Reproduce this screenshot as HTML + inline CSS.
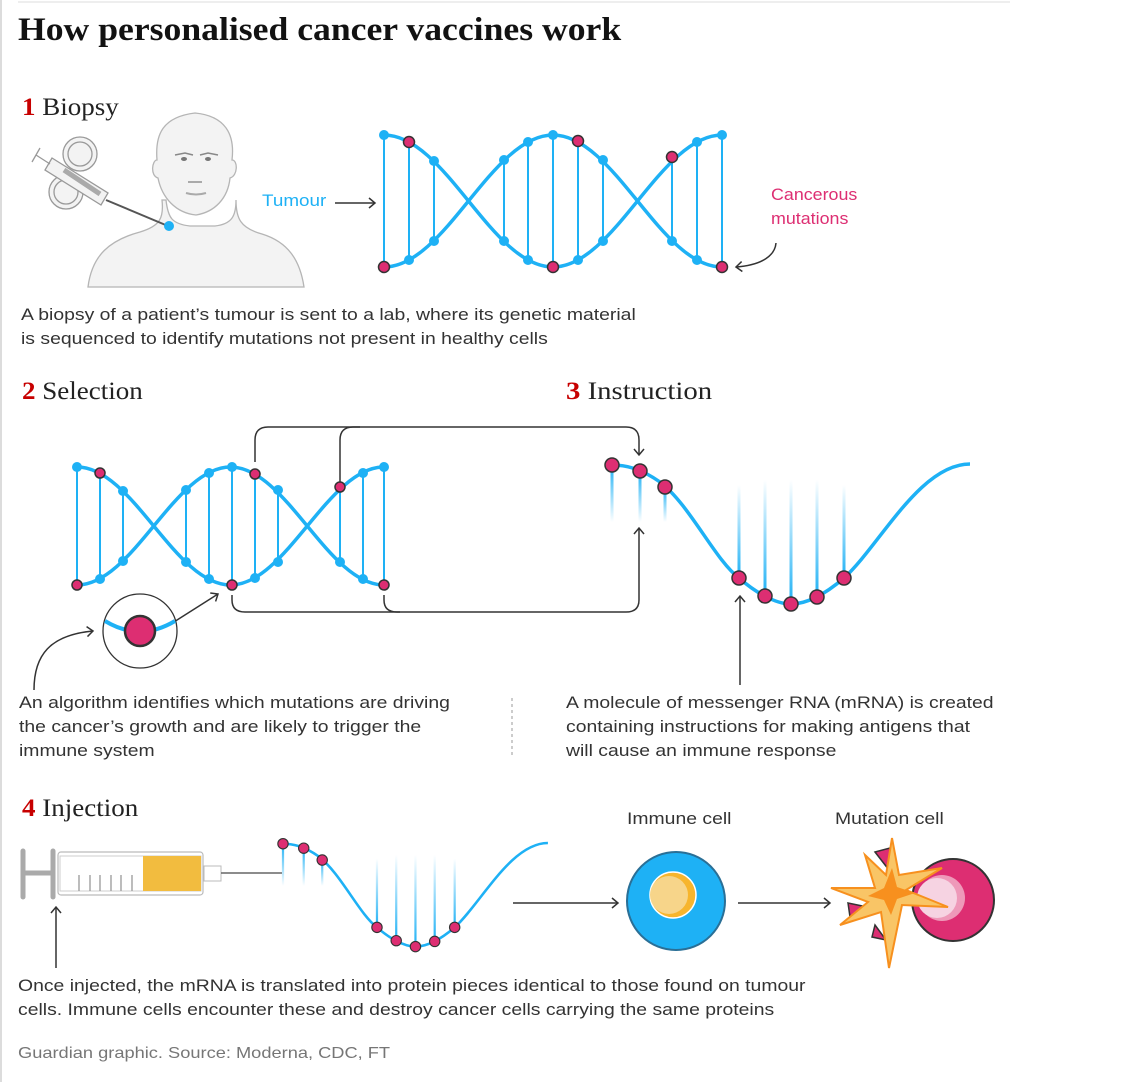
<!DOCTYPE html>
<html><head><meta charset="utf-8"><style>
html,body{margin:0;padding:0;background:#fff;}
body{width:1132px;height:1082px;position:relative;overflow:hidden;font-family:"Liberation Sans","DejaVu Sans",sans-serif;color:#333;}
.t{position:absolute;white-space:nowrap;transform-origin:0 0;}
.w{transform:scaleX(1.14);}
.h{font-family:"Liberation Serif","DejaVu Serif",serif;font-weight:bold;}
.sec{font-family:"Liberation Serif","DejaVu Serif",serif;font-size:25px;color:#222;transform:scaleX(1.08);}
.sec b{color:#c70000;font-weight:bold;}
.p{font-size:17px;line-height:24px;color:#333;}
svg{position:absolute;left:0;top:0;}
</style></head><body>
<svg width="1132" height="1082" viewBox="0 0 1132 1082">
<defs>
<linearGradient id="gd" x1="0" y1="0" x2="0" y2="1"><stop offset="0" stop-color="#1eb1f5"/><stop offset="1" stop-color="#1eb1f5" stop-opacity="0"/></linearGradient>
<linearGradient id="gu" x1="0" y1="1" x2="0" y2="0"><stop offset="0" stop-color="#1eb1f5"/><stop offset="1" stop-color="#1eb1f5" stop-opacity="0"/></linearGradient>
<marker id="ar" markerWidth="12" markerHeight="12" refX="9" refY="6" orient="auto" markerUnits="userSpaceOnUse"><path d="M3,1 L9,6 L3,11" fill="none" stroke="#333" stroke-width="1.5"/></marker>
</defs>
<line x1="1" y1="0" x2="1" y2="1082" stroke="#dcdcdc" stroke-width="2"/>
<line x1="18" y1="2" x2="1010" y2="2" stroke="#dcdcdc" stroke-width="1"/>

<!-- head -->
<g fill="#f3f3f3" stroke="#b5b5b5" stroke-width="1.3">
<path d="M88,287 C92,255 110,240 140,232 C160,226 164,218 162,200 L166,200 C168,218 172,224 190,226 L215,226 C232,224 236,216 236,200 C236,218 240,228 262,234 C288,242 300,260 304,287 Z"/>
<path d="M158,178 C150,176 152,160 157,160 C155,135 162,117 195,113 C226,116 235,135 232,160 C238,160 238,176 230,178 C228,198 215,212 196,215 C176,213 162,198 158,178 Z"/>
</g>
<path d="M175,155 l10,-2 l8,2 M200,155 l8,-2 l10,2" stroke="#888" stroke-width="1.5" fill="none"/>
<ellipse cx="184" cy="159" rx="3" ry="2" fill="#777"/><ellipse cx="208" cy="159" rx="3" ry="2" fill="#777"/>
<path d="M188,182 h14 M186,193 q10,3 20,0" stroke="#aaa" stroke-width="2" fill="none"/>
<!-- biopsy gun -->
<g fill="#f3f3f3" stroke="#999" stroke-width="1.3">
<circle cx="80" cy="154" r="17"/><circle cx="80" cy="154" r="12"/>
<circle cx="66" cy="192" r="17"/><circle cx="66" cy="192" r="12"/>
<path d="M52,158 L108,193 L101,205 L45,170 Z"/>
<path d="M36,155 L50,164 M40,148 L32,162" />
</g>
<path d="M64,170 L100,194" stroke="#aaa" stroke-width="5"/>
<line x1="106" y1="200" x2="168" y2="226" stroke="#555" stroke-width="2"/>
<circle cx="169" cy="226" r="5" fill="#1eb1f5"/>
<line x1="335" y1="203" x2="375" y2="203" stroke="#333" stroke-width="1.5" marker-end="url(#ar)"/>
<path d="M776,243 C775,255 763,265 736,267" stroke="#333" stroke-width="1.5" fill="none" marker-end="url(#ar)"/>

<!-- DNA 1 -->
<g stroke="#1eb1f5" fill="none">
<path d="M384,135 C445.5,135 491.5,267 553,267 C614.5,267 660.5,135 722,135" stroke-width="3.5"/>
<path d="M384,267 C445.5,267 491.5,135 553,135 C614.5,135 660.5,267 722,267" stroke-width="3.5"/>
<g stroke-width="2">
<line x1="384" y1="135" x2="384" y2="267"/><line x1="409" y1="142" x2="409" y2="260"/><line x1="434" y1="161" x2="434" y2="241"/>
<line x1="504" y1="160" x2="504" y2="241"/><line x1="528" y1="142" x2="528" y2="260"/><line x1="553" y1="135" x2="553" y2="267"/>
<line x1="578" y1="142" x2="578" y2="260"/><line x1="603" y1="160" x2="603" y2="241"/><line x1="672" y1="161" x2="672" y2="241"/>
<line x1="697" y1="142" x2="697" y2="260"/><line x1="722" y1="135" x2="722" y2="267"/>
</g></g>
<g fill="#1eb1f5">
<circle cx="384" cy="135" r="5"/><circle cx="409" cy="260" r="5"/><circle cx="434" cy="161" r="5"/><circle cx="434" cy="241" r="5"/>
<circle cx="504" cy="160" r="5"/><circle cx="504" cy="241" r="5"/><circle cx="528" cy="142" r="5"/><circle cx="528" cy="260" r="5"/>
<circle cx="553" cy="135" r="5"/><circle cx="578" cy="260" r="5"/><circle cx="603" cy="160" r="5"/><circle cx="603" cy="241" r="5"/>
<circle cx="672" cy="241" r="5"/><circle cx="697" cy="142" r="5"/><circle cx="697" cy="260" r="5"/><circle cx="722" cy="135" r="5"/>
</g>
<g fill="#dd2e72" stroke="#333" stroke-width="1.5">
<circle cx="409" cy="142" r="5.5"/><circle cx="384" cy="267" r="5.5"/><circle cx="578" cy="141" r="5.5"/><circle cx="553" cy="267" r="5.5"/><circle cx="672" cy="157" r="5.5"/><circle cx="722" cy="267" r="5.5"/>
</g>

<!-- connectors section 2/3 -->
<g stroke="#333" stroke-width="1.5" fill="none">
<path d="M255,462 V440 Q255,427 268,427 H626 Q639,427 639,440 V455" marker-end="url(#ar)"/>
<path d="M340,487 V440 Q340,427 353,427 H360"/>
<path d="M232,595 V600 Q232,612 245,612 H626 Q639,612 639,600 V528" marker-end="url(#ar)"/>
<path d="M384,595 V600 Q384,612 397,612 H400"/>
<path d="M166,627 L218,594" marker-end="url(#ar)"/>
<path d="M34,690 C34,655 50,635 93,631" marker-end="url(#ar)"/>
<line x1="740" y1="685" x2="740" y2="596" marker-end="url(#ar)"/>
<line x1="56" y1="968" x2="56" y2="907" marker-end="url(#ar)"/>
<line x1="513" y1="903" x2="618" y2="903" marker-end="url(#ar)"/>
<line x1="738" y1="903" x2="830" y2="903" marker-end="url(#ar)"/>
</g>
<line x1="512" y1="698" x2="512" y2="758" stroke="#bbb" stroke-width="1.5" stroke-dasharray="3,3"/>
<circle cx="140" cy="631" r="37" fill="#fff" stroke="#333" stroke-width="1.3"/>
<path d="M105,621 Q140,642 175,621" stroke="#1eb1f5" stroke-width="4" fill="none"/>
<circle cx="140" cy="631" r="15" fill="#dd2e72" stroke="#333" stroke-width="2.5"/>

<!-- DNA 2 -->
<g stroke="#1eb1f5" fill="none">
<path d="M77,467 C132.9,467 174.6,585 230.5,585 C286.4,585 328.1,467 384,467" stroke-width="3.5"/>
<path d="M77,585 C132.9,585 174.6,467 230.5,467 C286.4,467 328.1,585 384,585" stroke-width="3.5"/>
<g stroke-width="2">
<line x1="77" y1="467" x2="77" y2="585"/><line x1="100" y1="473" x2="100" y2="579"/><line x1="123" y1="491" x2="123" y2="561"/>
<line x1="186" y1="490" x2="186" y2="562"/><line x1="209" y1="473" x2="209" y2="579"/><line x1="232" y1="467" x2="232" y2="585"/>
<line x1="255" y1="474" x2="255" y2="578"/><line x1="278" y1="490" x2="278" y2="562"/><line x1="340" y1="490" x2="340" y2="562"/>
<line x1="363" y1="473" x2="363" y2="579"/><line x1="384" y1="467" x2="384" y2="585"/>
</g></g>
<g fill="#1eb1f5">
<circle cx="77" cy="467" r="5"/><circle cx="100" cy="579" r="5"/><circle cx="123" cy="491" r="5"/><circle cx="123" cy="561" r="5"/>
<circle cx="186" cy="490" r="5"/><circle cx="186" cy="562" r="5"/><circle cx="209" cy="473" r="5"/><circle cx="209" cy="579" r="5"/>
<circle cx="232" cy="467" r="5"/><circle cx="255" cy="578" r="5"/><circle cx="278" cy="490" r="5"/><circle cx="278" cy="562" r="5"/>
<circle cx="340" cy="562" r="5"/><circle cx="363" cy="473" r="5"/><circle cx="363" cy="579" r="5"/><circle cx="384" cy="467" r="5"/>
</g>
<g fill="#dd2e72" stroke="#333" stroke-width="1.5">
<circle cx="100" cy="473" r="5"/><circle cx="77" cy="585" r="5"/><circle cx="232" cy="585" r="5"/><circle cx="255" cy="474" r="5"/><circle cx="340" cy="487" r="5"/><circle cx="384" cy="585" r="5"/>
</g>

<!-- mRNA 3 -->
<g id="rna">
<rect x="610.5" y="465" width="3" height="57" fill="url(#gd)"/>
<rect x="638.5" y="471" width="3" height="51" fill="url(#gd)"/>
<rect x="663.5" y="487" width="3" height="35" fill="url(#gd)"/>
<rect x="737.5" y="485" width="3" height="93" fill="url(#gu)"/>
<rect x="763.5" y="480" width="3" height="116" fill="url(#gu)"/>
<rect x="789.5" y="480" width="3" height="124" fill="url(#gu)"/>
<rect x="815.5" y="480" width="3" height="117" fill="url(#gu)"/>
<rect x="842.5" y="485" width="3" height="93" fill="url(#gu)"/>
<path d="M612,465 C625,465 640,468 660,482 C690,505 715,560 739,578 C755,592 775,604 791,604 C810,604 830,590 844,578 C880,545 920,464 970,464" stroke="#1eb1f5" stroke-width="3.5" fill="none"/>
<g fill="#dd2e72" stroke="#333" stroke-width="1.5">
<circle cx="612" cy="465" r="7"/><circle cx="640" cy="471" r="7"/><circle cx="665" cy="487" r="7"/>
<circle cx="739" cy="578" r="7"/><circle cx="765" cy="596" r="7"/><circle cx="791" cy="604" r="7"/><circle cx="817" cy="597" r="7"/><circle cx="844" cy="578" r="7"/>
</g>
</g>
<use href="#rna" transform="translate(283,843) scale(0.74) translate(-612,-464)"/>

<!-- syringe -->
<g>
<line x1="23" y1="851" x2="23" y2="897" stroke="#aaa" stroke-width="5" stroke-linecap="round"/>
<line x1="53" y1="851" x2="53" y2="897" stroke="#aaa" stroke-width="5" stroke-linecap="round"/>
<line x1="23" y1="873" x2="53" y2="873" stroke="#aaa" stroke-width="5"/>
<rect x="58" y="852" width="145" height="43" rx="3" fill="#fff" stroke="#bbb" stroke-width="1.2"/>
<rect x="60" y="856" width="141" height="35" fill="#fff" stroke="#ccc" stroke-width="1"/>
<rect x="143" y="856" width="58" height="35" fill="#f2bc3f"/>
<path d="M79,875 V891 M90,875 V891 M100,875 V891 M111,875 V891 M121,875 V891 M132,875 V891" stroke="#999" stroke-width="1.3"/>
<rect x="204" y="866" width="17" height="15" fill="#fff" stroke="#bbb"/>
<line x1="221" y1="873" x2="282" y2="873" stroke="#666" stroke-width="1.5"/>
</g>

<!-- immune cell -->
<circle cx="676" cy="901" r="49" fill="#1eb1f5" stroke="#2a6f96" stroke-width="2"/>
<circle cx="673" cy="895" r="23" fill="#f7b52d" stroke="#fff" stroke-width="1.5"/>
<circle cx="669" cy="895" r="19" fill="#f7d58a"/>
<!-- mutation cell -->
<circle cx="953" cy="900" r="41" fill="#dd2e72" stroke="#333" stroke-width="2"/>
<circle cx="942" cy="898" r="23" fill="#ee99b9"/>
<circle cx="937" cy="898" r="20" fill="#f6d3e2"/>
<path d="M875,852 L890,848 L889,870 Z" fill="#dd2e72" stroke="#333" stroke-width="1.5"/>
<path d="M848,903 L872,908 L850,917 Z" fill="#dd2e72" stroke="#333" stroke-width="1.5"/>
<path d="M875,925 L886,940 L872,937 Z" fill="#dd2e72" stroke="#333" stroke-width="1.5"/>
<path d="M892,838 L899,875 L942,868 L906,890 L948,907 L902,905 L889,968 L881,912 L840,925 L868,902 L831,888 L875,888 L865,855 L886,875 Z" fill="#f9c566" stroke="#f7901e" stroke-width="2" stroke-linejoin="miter"/>
<path d="M892,868 L897,887 L915,893 L897,899 L891,915 L884,900 L868,896 L884,888 Z" fill="#f7901e"/>
</svg>

<div class="t h" style="left:18px;top:12px;font-size:33px;color:#121212;transform:scaleX(1.08);">How personalised cancer vaccines work</div>
<div class="t sec" style="left:22px;top:94px;"><b>1</b> Biopsy</div>
<div class="t sec" style="left:22px;top:378px;"><b>2</b> Selection</div>
<div class="t sec" style="left:566px;top:378px;transform:scaleX(1.15);"><b>3</b> Instruction</div>
<div class="t sec" style="left:22px;top:795px;"><b>4</b> Injection</div>
<div class="t w" style="left:262px;top:191px;font-size:17px;color:#1eb1f5;transform:scaleX(1.11);">Tumour</div>
<div class="t w" style="left:771px;top:183px;font-size:17px;line-height:24px;color:#dd2e72;transform:scaleX(1.05);">Cancerous<br>mutations</div>
<div class="t p w" style="left:21px;top:303px;">A biopsy of a patient’s tumour is sent to a lab, where its genetic material<br>is sequenced to identify mutations not present in healthy cells</div>
<div class="t p w" style="left:19px;top:691px;">An algorithm identifies which mutations are driving<br>the cancer’s growth and are likely to trigger the<br>immune system</div>
<div class="t p w" style="left:566px;top:691px;">A molecule of messenger RNA (mRNA) is created<br>containing instructions for making antigens that<br>will cause an immune response</div>
<div class="t w" style="left:627px;top:809px;font-size:17px;color:#333;">Immune cell</div>
<div class="t w" style="left:835px;top:809px;font-size:17px;color:#333;">Mutation cell</div>
<div class="t p w" style="left:18px;top:974px;">Once injected, the mRNA is translated into protein pieces identical to those found on tumour<br>cells. Immune cells encounter these and destroy cancer cells carrying the same proteins</div>
<div class="t w" style="left:18px;top:1045px;font-size:16px;color:#767676;">Guardian graphic. Source: Moderna, CDC, FT</div>
</body></html>
